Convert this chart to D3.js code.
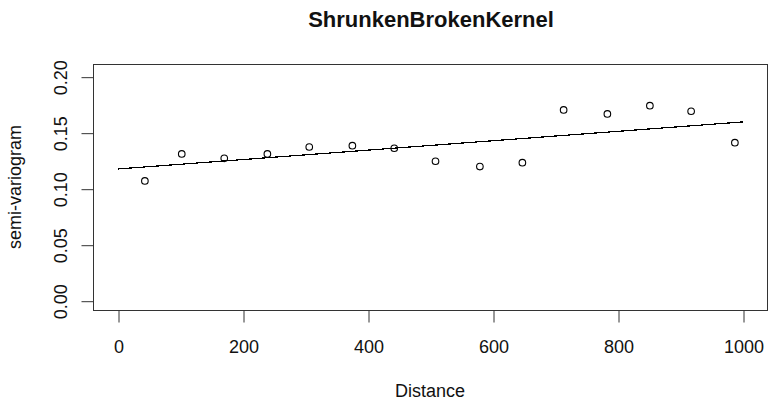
<!DOCTYPE html>
<html>
<head>
<meta charset="utf-8">
<script src="https://cdn.jsdelivr.net/npm/d3@7/dist/d3.min.js"></script>
<style>
  html, body { margin: 0; padding: 0; background: #fff; }
  svg { display: block; font-family: "Liberation Sans", Arial, sans-serif; }
</style>
</head>
<body>
<svg id="chart" width="768" height="406"></svg>
<script>
// Empirical semi-variogram: lag distance and semi-variance per bin
const distances = [43, 102, 170, 239, 306, 375, 442, 508, 579, 647, 713, 783, 851, 917, 987];
const gammas = [0.1069, 0.1310, 0.1271, 0.1310, 0.1372, 0.1384, 0.1361, 0.1245, 0.1197, 0.1232, 0.1703, 0.1667, 0.1741, 0.1691, 0.1411];

// Fitted linear trend over the distance range
const fitDistances = [0, 1000];
const fitGammas = [0.1176, 0.1596];

const xTicks = [0, 200, 400, 600, 800, 1000];
const yTicks = [0.00, 0.05, 0.10, 0.15, 0.20];

const title = "ShrunkenBrokenKernel";
const xLabel = "Distance";
const yLabel = "semi-variogram";

const svg = d3.select("#chart");
const box = { left: 93, right: 768, top: 64, bottom: 310 };

const x = d3.scaleLinear().domain([-40, 1040]).range([box.left, box.right]);
const y = d3.scaleLinear().domain([-0.0083, 0.2113]).range([box.bottom, box.top]);

const ink = "#111";

// plot frame
svg.append("rect")
  .attr("x", box.left + 0.5).attr("y", box.top + 0.5)
  .attr("width", box.right - box.left - 1).attr("height", box.bottom - box.top)
  .attr("fill", "none").attr("stroke", "#333").attr("stroke-width", 1);

// x axis
const xAxis = d3.axisBottom(x).tickValues(xTicks).tickSize(12).tickPadding(4)
  .tickFormat(d3.format("d"));
const gx = svg.append("g").attr("transform", `translate(0.5,${box.bottom + 0.5})`).call(xAxis);
gx.select(".domain").remove();
gx.selectAll(".tick line").attr("stroke", "#333");
gx.selectAll(".tick text").attr("fill", ink).attr("font-size", 18)
  .attr("font-family", "Liberation Sans, Arial, sans-serif")
  .attr("y", null).attr("dy", null).attr("transform", "translate(0,42)")
  .style("dominant-baseline", "auto");

// y axis with rotated tick labels
const yAxis = d3.axisLeft(y).tickValues(yTicks).tickSize(12).tickFormat(d3.format(".2f"));
const gy = svg.append("g").attr("transform", `translate(${box.left + 0.5},0.5)`).call(yAxis);
gy.select(".domain").remove();
gy.selectAll(".tick line").attr("stroke", "#333");
gy.selectAll(".tick text").attr("fill", ink).attr("font-size", 18)
  .attr("font-family", "Liberation Sans, Arial, sans-serif")
  .attr("x", null).attr("dy", null)
  .attr("text-anchor", "middle")
  .attr("transform", "translate(-27,0) rotate(-90)");

// fitted trend line
svg.append("path")
  .datum(fitDistances.map((d, i) => [d, fitGammas[i]]))
  .attr("d", d3.line().x(d => x(d[0])).y(d => y(d[1])))
  .attr("fill", "none").attr("stroke", "#000").attr("stroke-width", 1.2)
  .attr("shape-rendering", "crispEdges");

// empirical points
svg.append("g").selectAll("circle")
  .data(distances.map((d, i) => [d, gammas[i]]))
  .join("circle")
  .attr("cx", d => x(d[0])).attr("cy", d => y(d[1])).attr("r", 3.3)
  .attr("fill", "none").attr("stroke", "#000").attr("stroke-width", 1.1);

// titles
svg.append("text").attr("x", 431).attr("y", 27).attr("text-anchor", "middle")
  .attr("font-size", 22).attr("font-weight", "bold").attr("fill", ink).text(title);

svg.append("text").attr("x", 430).attr("y", 397).attr("text-anchor", "middle")
  .attr("font-size", 18).attr("fill", ink).text(xLabel);

svg.append("text").attr("transform", `translate(21,${(box.top + box.bottom) / 2}) rotate(-90)`)
  .attr("text-anchor", "middle").attr("font-size", 18).attr("fill", ink).text(yLabel);
</script>
</body>
</html>
